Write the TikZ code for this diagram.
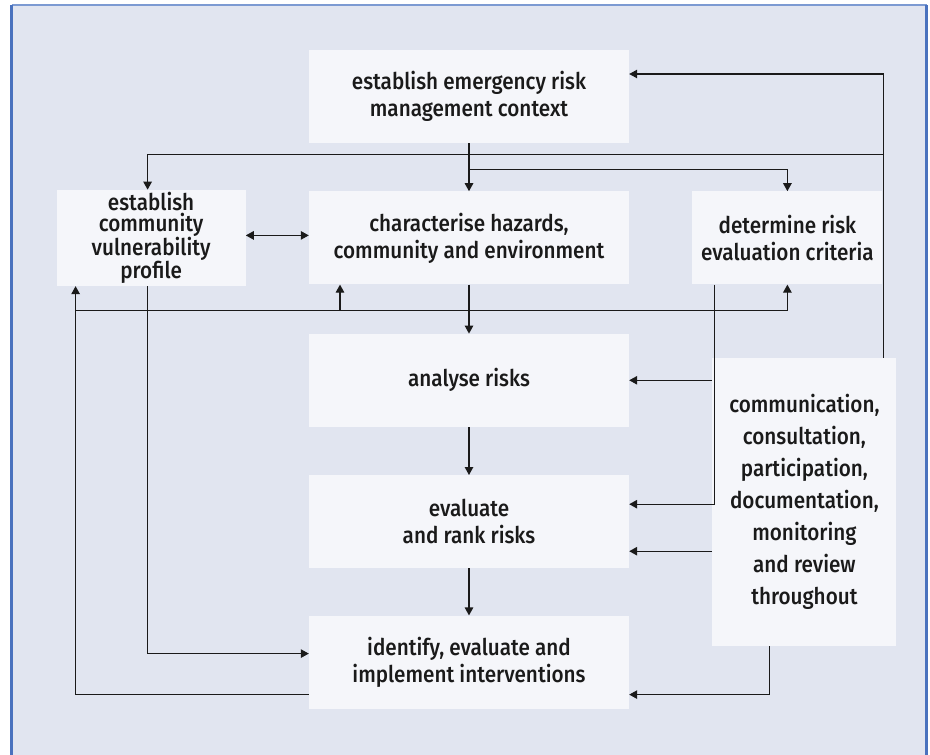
\documentclass[tikz,border=0pt]{standalone}
\usepackage{fontspec}
\setmainfont{Fira Sans Medium}[FakeStretch=0.9]
\usepackage{xcolor}
\definecolor{panel}{HTML}{E1E5F0}
\definecolor{card}{HTML}{F5F6FA}
\definecolor{frame}{HTML}{4A72BE}
\definecolor{framelt}{HTML}{7C9AD2}
\definecolor{ink}{HTML}{1A1A1A}
\usetikzlibrary{positioning,arrows.meta,calc}
\tikzset{
  >={Triangle[length=8pt,width=8.5pt]},
  blk/.style={fill=card,align=center,text=ink,inner sep=2pt,
    font=\fontsize{23}{27}\selectfont,minimum width=320pt,minimum height=93pt},
  flow/.style={->,draw=ink,line width=1.2pt},
}

\begin{document}
\begin{tikzpicture}[x=1pt,y=-1pt,node distance=48pt and 63pt]
  \useasboundingbox (0,0) rectangle (930,755);
  \fill[white] (0,0) rectangle (930,755);
  \fill[panel] (11.5,5) rectangle (926.5,760);
  \draw[framelt,line width=2pt] (11.5,5) -- (926.5,5);
  \draw[frame,line width=3pt] (11.5,760) -- (11.5,5);
  \draw[frame,line width=3pt] (926.5,5) -- (926.5,760);
  % main column
  \node[blk] (ctx) at (469,96.5) {establish emergency risk\\management context};
  \node[blk,below=of ctx] (haz) {characterise hazards,\\community and environment};
  \node[blk,below=49pt of haz] (ana) {analyse risks};
  \node[blk,below=of ana] (eva) {evaluate\\and rank risks};
  \node[blk,below=47pt of eva] (idf) {identify, evaluate and\\implement interventions};
  % side boxes
  \node[blk,left=of haz,minimum width=189pt,font=\fontsize{23}{21}\selectfont] (vuln) {establish\\community\\vulnerability\\profile};
  \node[blk,right=of haz,minimum width=190pt] (crit) {determine risk\\evaluation criteria};
  \node[blk,anchor=north west,minimum width=184pt,minimum height=288pt,
    font=\fontsize{23}{32}\selectfont] (comm) at ([xshift=83pt,yshift=-24pt]ana.north east)
    {communication,\\consultation,\\participation,\\documentation,\\monitoring\\and review\\throughout};
  % context to next stage
  \draw[flow] (ctx) -- (haz);
  \draw[flow] ([yshift=-26pt]ctx.south) -| (crit.north);
  \draw[flow,<->] ([yshift=2.5pt]vuln.east) -- ([yshift=2.5pt]haz.west);
  \draw[flow] (haz) -- (ana);
  \draw[flow] (ana) -- (eva);
  \draw[flow] (eva) -- (idf);
  % communication loop
  \coordinate (ctop) at ([xshift=79pt]comm.north);
  \draw[flow] (ctop) |- ([yshift=22.5pt]ctx.east);
  \coordinate (vtap) at (ctop |- 0,154.5);
  \draw[flow] (vtap) -| ([xshift=-3.5pt]vuln.north);
  \draw[flow] (comm.west |- ana.east) -- (ana.east);
  \coordinate (evin) at ([yshift=-29.5pt]eva.east);
  \draw[flow] (comm.west |- evin) -- (evin);
  \draw[flow] ([xshift=-35pt]comm.south) |- ([yshift=-32.5pt]idf.east);
  % side links down
  \draw[flow] ([xshift=-3.5pt]vuln.south) |- ([yshift=8.5pt]idf.west);
  \draw[flow] ([xshift=-73pt]crit.south) |- ([yshift=17.5pt]eva.east);
  % feedback from interventions
  \coordinate (fbrow) at (0,310.7);
  \draw[flow] ([yshift=-32.5pt]idf.west) -| ([xshift=-75.5pt]vuln.south);
  \draw[flow] ([xshift=-75.5pt]vuln.south |- fbrow) -| (crit.south);
  \draw[flow] ([xshift=-129pt]haz.south |- fbrow) -- ([xshift=-129pt]haz.south);
\end{tikzpicture}
\end{document}
